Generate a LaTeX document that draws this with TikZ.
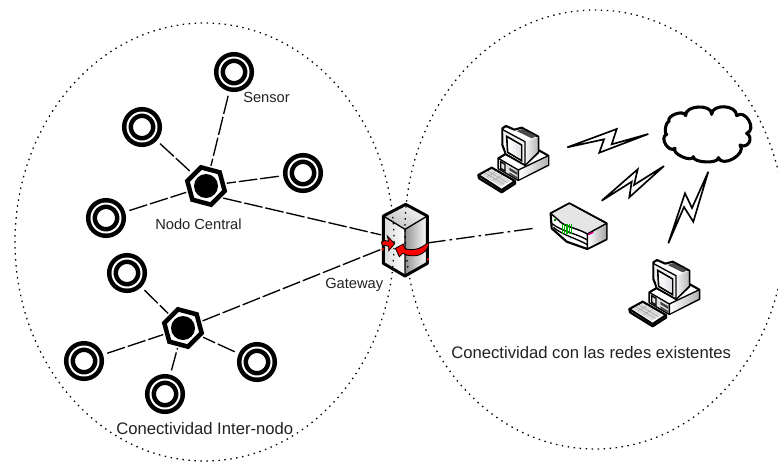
\documentclass[tikz,border=0pt]{standalone}
\usepackage{fontspec}
\setmainfont{Liberation Sans}
\usetikzlibrary{shapes.geometric}
\definecolor{txt}{HTML}{222222}
\tikzset{
  x=0.75pt,y=-0.75pt,
  sensor/.style={circle,draw=black,fill=white,line width=3.4pt,double=white,double distance=1.5pt,
    minimum size=21.75pt,inner sep=0pt,outer sep=7.5pt},
  hub/.style={regular polygon,regular polygon sides=6,shape border rotate=-15,draw=black,fill=white,
    line width=3.4pt,minimum size=29pt,inner sep=0pt,outer sep=3pt,line join=miter},
  hubdot/.style={circle,fill=black,minimum size=18pt,inner sep=0pt},
  link/.style={line width=1pt,black,dash pattern=on 14pt off 2.2pt},
  linkdot/.style={line width=1pt,black,dash pattern=on 14pt off 3pt on 2pt off 3pt},
  zone/.style={line width=0.95pt,black,dash pattern=on 1.1pt off 3.4pt},
  bolt/.style={draw=black,fill=white,line width=1.25pt,line join=miter},
  lab/.style={text=txt,font=\fontsize{11}{13}\selectfont,inner sep=0pt},
  icon/.style={draw=black,line width=1.6pt,line join=round},
  pc/.pic={
    \begin{scope}[x=0.25pt,y=-0.25pt]
      % base
      \fill[white,icon] (85,130) -- (115,112) -- (205,105) -- (235,122) -- (235,150) -- (145,195) -- (85,160) -- cycle;
      \shade[left color=white,right color=black!30] (147,167) -- (233,124) -- (233,149) -- (147,193) -- cycle;
      \fill[black!12] (87,132) -- (145,165) -- (145,193) -- (87,160) -- cycle;
      \draw[line width=1pt] (85,130) -- (145,165) -- (145,195) (145,165) -- (235,122);
      \draw[line width=1pt] (92,140) -- (105,148) -- (105,168) -- (92,160) -- cycle;
      \fill[black!75] (118,158) -- (142,172) -- (142,180) -- (118,166) -- cycle;
      \fill[black!75] (118,172) -- (142,186) -- (142,191) -- (118,177) -- cycle;
      % monitor
      \fill[white,icon] (97,40) -- (108,33) -- (133,44) -- (155,38) -- (205,65) -- (205,112) -- (165,150) -- (108,118) -- (97,90) -- cycle;
      \shade[left color=black!4,right color=black!28] (165,82) -- (203,66) -- (203,110) -- (165,148) -- cycle;
      \fill[black!70] (140,48) -- (157,42) -- (200,64) -- (185,70) -- cycle;
      \fill[black!5] (100,48) -- (163,82) -- (163,146) -- (108,114) -- cycle;
      \draw[line width=1pt] (98,44) -- (165,80) -- (165,150);
      \draw[line width=1.2pt,fill=white] (110,64) -- (155,90) -- (155,137) -- (113,112) -- cycle;
      \shade[left color=white,right color=blue!15!black!12] (115,72) -- (151,93) -- (151,130) -- (117,108) -- cycle;
      % keyboard
      \fill[white,icon] (25,180) -- (65,158) -- (135,198) -- (95,225) -- cycle;
      \fill[black!15] (35,180) -- (65,164) -- (122,197) -- (93,214) -- cycle;
      \draw[black!40,line width=0.3pt] (45,174) -- (103,208) (55,169) -- (112,203) (50,186) -- (80,169) (68,197) -- (97,180);
      \draw[icon] (25,180) -- (27,190) -- (95,232) -- (135,206) -- (135,198);
    \end{scope}
  },
  routerbox/.pic={
    \begin{scope}[x=0.25pt,y=-0.25pt]
      \fill[white,icon] (62,130) -- (118,100) -- (230,160) -- (230,208) -- (172,237) -- (110,215) -- (65,175) -- cycle;
      \fill[black!10] (66,131) -- (118,103) -- (226,162) -- (172,190) -- (145,178) -- (110,172) -- (85,150) -- cycle;
      \shade[left color=white,right color=black!35] (174,194) -- (228,164) -- (228,206) -- (174,233) -- cycle;
      \draw[line width=1.1pt] (62,130) -- (85,150) .. controls (100,170) and (145,175) .. (172,192) -- (172,237);
      \draw[line width=1.1pt] (172,192) -- (230,160);
      \draw[line width=1pt] (65,160) .. controls (95,185) and (140,190) .. (172,210);
      \draw[line width=1pt] (70,172) .. controls (100,197) and (140,205) .. (172,224);
      \foreach \a in {97,104,111,118,125}
        \draw[green!70!black,line width=1.1pt] (\a,163) -- (\a,192);
      \draw[magenta,line width=1pt] (175,194) -- (190,187);
      \fill[green!50!black] (72,146) rectangle (79,153);
    \end{scope}
  }
}
\begin{document}
\begin{tikzpicture}
\useasboundingbox[fill=white] (0,0) rectangle (778,462);
\clip (0,0) rectangle (778,462);

% sensors and hubs
\node[sensor] (s1) at (234,72) {};
\node[sensor] (s2) at (142,127) {};
\node[sensor] (s3) at (303,173) {};
\node[sensor] (s4) at (106,218) {};
\node[hub] (h1) at (206,186) {};
\node[hubdot] (d1) at (h1.center) {};
\node[sensor] (t1) at (127,273) {};
\node[sensor] (t2) at (84,361) {};
\node[sensor] (t3) at (165,394) {};
\node[sensor] (t4) at (257,362) {};
\node[hub] (h2) at (183,328) {};
\node[hubdot] (d2) at (h2.center) {};

\foreach \s in {s1,s2,s3,s4} \draw[link] (\s) -- (h1);
\foreach \s in {t1,t2,t3,t4} \draw[link] (\s) -- (h2);

% gateway
\node[inner sep=0pt,outer sep=0pt,minimum width=34.5pt,minimum height=54pt] (gw) at (404,241) {};
\node[inner sep=0pt,outer sep=0pt,minimum width=55.5pt,minimum height=30pt] (rt) at (573,228) {};
\draw[link] (h1.-35) -- (gw.165.4);
\draw[link] (h2.20) -- (gw.200.3);
\draw[linkdot] (gw.-5) -- (rt.west);

\begin{scope}[shift={(340,180)},x=0.25pt,y=-0.25pt]
  \shade[top color=black!3,bottom color=black!25,shading angle=-30] (197,73) -- (262,108) -- (195,148) -- (130,108) -- cycle;
  \shade[left color=black!15,right color=white] (130,108) -- (195,148) -- (195,288) -- (130,250) -- cycle;
  \shade[left color=black!42,right color=white] (195,148) -- (262,108) -- (262,250) -- (195,288) -- cycle;
  \draw[line width=1pt] (130,108) -- (195,148) -- (262,108) (195,148) -- (195,288);
  \draw[icon,line width=2.2pt] (197,73) -- (262,108) -- (262,250) -- (195,288) -- (130,250) -- (130,108) -- cycle;
  \draw[black,fill=red,line width=0.6pt]
    (264,186) .. controls (245,208) and (215,213) .. (195,206) -- (190,192) -- (166,205) -- (178,230) -- (188,220)
    .. controls (225,238) and (258,222) .. (265,197) -- cycle;
  \draw[black,fill=red,line width=0.6pt]
    (124,186) .. controls (130,180) and (140,181) .. (146,184) -- (142,168) -- (164,191) -- (146,212) -- (146,199) .. controls (140,195) and (130,196) .. (127,196) -- cycle;
  \fill[red] (264,238) circle (4);
  \fill[red] (128,208) circle (4);
\end{scope}

% zones
\draw[zone] (204.5,242) ellipse [x radius=189.5,y radius=219];
\draw[zone] (595,229.5) ellipse [x radius=190,y radius=219.5];

% bolts
\draw[bolt] (567.3,147.3) -- (616.7,129) -- (611.7,144.3) -- (648.3,134) -- (599.3,152.7) -- (604,139.3) -- cycle;
\draw[bolt] (601.7,200.7) -- (637.7,169.3) -- (634,185) -- (664,166) -- (629.3,197.3) -- (631.7,181.7) -- cycle;
\draw[bolt] (668.3,243.3) -- (685,193.3) -- (692,208) -- (708.3,171.7) -- (693.3,221.7) -- (684,207) -- cycle;

% cloud
\begin{scope}[shift={(655,95)},x=0.25pt,y=-0.25pt]
  \draw[draw=black,fill=white,line width=2.3pt,line join=round]
    (92,62) .. controls (88,30) and (172,26) .. (170,58)
    .. controls (170,26) and (245,28) .. (245,62)
    .. controls (271,41) and (307,104) .. (275,115)
    .. controls (298,128) and (278,163) .. (255,150)
    .. controls (277,176) and (202,220) .. (190,188)
    .. controls (192,207) and (113,204) .. (115,185)
    .. controls (111,204) and (48,175) .. (60,160)
    .. controls (41,175) and (12,127) .. (35,118)
    .. controls (26,116) and (33,78) .. (42,80)
    .. controls (33,62) and (87,42) .. cycle;
\end{scope}

% icons
\path (470,115) pic {pc};
\path (621,249) pic {pc};
\path (530,170) pic {routerbox};

% labels
\node[lab,anchor=west] (l1) at (243,97) {Sensor};
\node[lab,anchor=west] (l2) at (155,224) {Nodo Central};
\node[lab,anchor=west] (l3) at (325,285) {Gateway};
\node[lab,anchor=west,font=\fontsize{12.5}{14}\selectfont] (l4) at (116,429) {Conectividad Inter-nodo};
\node[lab,anchor=west,font=\fontsize{12.5}{14}\selectfont] (l5) at (451,353) {Conectividad con las redes existentes};
\end{tikzpicture}
\end{document}
